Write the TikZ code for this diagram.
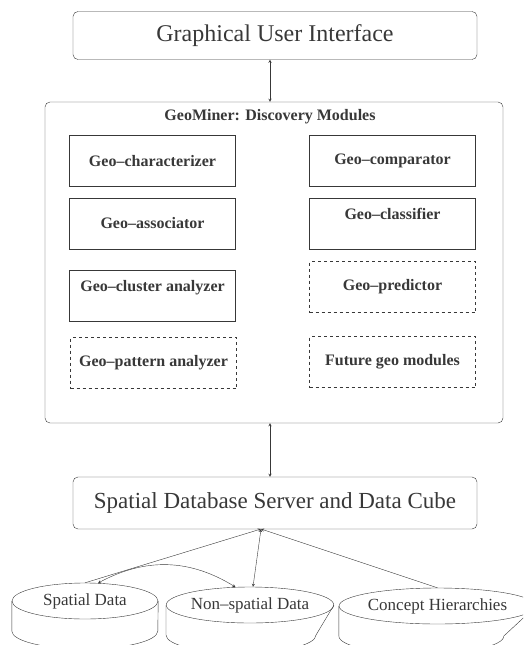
\documentclass[tikz,border=0pt]{standalone}
\usepackage{fontspec}
\setmainfont{Liberation Serif}
\usetikzlibrary{shapes.geometric,positioning}
\definecolor{ink}{gray}{0.22}

\begin{document}
\begin{tikzpicture}[x=1pt,y=-1pt,>=stealth,draw=ink,text=ink,
    bigbox/.style={draw,rounded corners=5pt,minimum width=404pt,inner sep=0pt,
        font=\fontsize{24}{27}\selectfont},
    modbox/.style={draw,minimum width=166pt,minimum height=51pt,inner sep=0pt,
        font=\bfseries\fontsize{16}{18}\selectfont},
    toptext/.style={text height=21pt,text depth=30pt,minimum height=0pt},
    futbox/.style={modbox,dashed},
    store/.style={draw,ellipse,minimum width=146pt,minimum height=36pt,inner sep=0pt,
        font=\fontsize{17}{19}\selectfont}]
            \clip (0,0) rectangle (523,645);

            \node[bigbox,minimum height=48pt] (gui) at (275,35.5) {Graphical User Interface};
            \node[draw,rounded corners=5pt,minimum width=458pt,minimum height=321pt] (geo) at (274,262.5) {};
            \node[font=\bfseries\fontsize{16}{18}\selectfont] (title) at (270,117) {GeoMiner: Discovery Modules};

            \node[modbox] (char) at (152.5,161) {Geo–characterizer};
            \node[modbox] (comp) at (392.5,160.5) {Geo–comparator};
            \node[modbox] (assoc) at (152.5,223.5) {Geo–associator};
            \node[modbox,toptext] (class) at (392.5,224) {Geo–classifier};
            \node[modbox,toptext] (clust) at (152.5,295.5) {Geo–cluster analyzer};
            \node[futbox] (pred) at (392.5,287) {Geo–predictor};
            \node[futbox] (patt) at (153.5,363) {Geo–pattern analyzer};
            \node[futbox] (fut) at (392.5,362) {Future geo modules};

            \node[bigbox,minimum height=52pt,font=\fontsize{23}{26}\selectfont] (db) at (275,503) {Spatial Database Server and Data Cube};
            \coordinate (hub) at (261,529);

            \node[store] (sd) at (85,601) {Spatial Data};
            \node[store,minimum width=150pt] (ns) at (250,605) {Non–spatial Data};
            \node[store,minimum width=165pt] (ch) at (437.5,606) {Concept Hierarchies};

            \foreach \c/\r in {sd/73,ns/75,ch/82.5}
                \draw (\c.west) -- ++(0,30) arc[start angle=180,end angle=360,x radius=\r pt,y radius=18pt] -- (\c.east);

            \draw[<->] (gui.south -| title) -- (geo.north -| title);
            \draw[<->] (geo.south -| title) -- (db.north -| title);
            \draw[->] (sd.north) -- (hub);
            \draw[<->] ([xshift=3pt]ns.north) -- (hub);
            \draw[->] (ch.north) -- (hub);
            \draw[<->] (sd.54) to[bend left=30] (ns.129);
        \end{tikzpicture}
\end{document}
